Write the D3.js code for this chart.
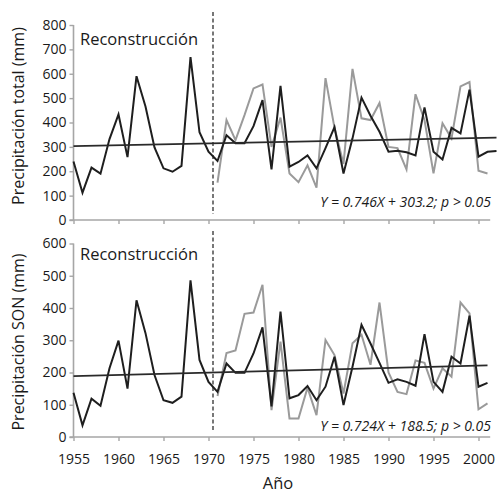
<!DOCTYPE html>
<html>
<head>
<meta charset="utf-8">
<script src="https://cdn.jsdelivr.net/npm/d3@7"></script>
<style>
  body { margin: 0; background: #fff; }
  svg text { font-family: "Open Sans", sans-serif; fill: #1a1a1a; }
</style>
</head>
<body>
<svg id="chart"></svg>
<script>
const firstYear = 1955;
const obsFirstYear = 1971;
const splitYear = 1970.5;

// precipitacion total (mm)
const totalRecon = [240, 112, 215, 190, 332, 433, 258, 590, 466, 298, 212, 198, 222, 668, 360, 280,
  242, 348, 315, 315, 385, 492, 208, 550, 219, 238, 265, 212, 295, 381, 191, 335, 502, 428, 362,
  280, 284, 278, 265, 462, 280, 248, 378, 355, 535, 260, 280, 283];
const totalObs = [153, 410, 328, 430, 540, 556, 300, 420, 191, 155, 224, 133, 582, 378, 230, 620,
  417, 410, 480, 300, 295, 208, 516, 410, 191, 397, 335, 548, 566, 202, 191];

// precipitacion SON (mm)
const sonRecon = [137, 36, 119, 97, 213, 299, 150, 424, 322, 192, 114, 106, 125, 486, 239, 171,
  140, 228, 199, 199, 259, 340, 95, 389, 120, 130, 158, 114, 156, 249, 99, 218, 348, 290, 230,
  168, 179, 171, 159, 319, 171, 140, 249, 228, 376, 156, 168];
const sonObs = [127, 260, 268, 382, 386, 472, 83, 296, 57, 57, 153, 68, 301, 254, 135, 291, 317,
  224, 417, 200, 140, 133, 237, 230, 150, 213, 187, 417, 383, 86, 104];

// regression: Y = a*X + b, X = years since 1955
const totalFit = { a: 0.746, b: 303.2, text: 'Y = 0.746X + 303.2; p > 0.05' };
const sonFit = { a: 0.724, b: 188.5, text: 'Y = 0.724X + 188.5; p > 0.05' };

const xTicks = [1955, 1960, 1965, 1970, 1975, 1980, 1985, 1990, 1995, 2000];
const totalTicks = [0, 100, 200, 300, 400, 500, 600, 700, 800];
const sonTicks = [0, 100, 200, 300, 400, 500, 600];

const width = 497;
const height = 496;

const svg = d3.select('#chart')
  .attr('width', width)
  .attr('height', height);

svg.append('rect').attr('width', width).attr('height', height).attr('fill', '#fff');

const x = d3.scaleLinear().domain([1955, 2000]).range([73.5, 478.5]);
const axisEnd = 2001.3;

const toPoints = (values, start) => values.map((v, i) => ({ year: start + i, value: v }));

function drawPanel(opts) {
  const y = d3.scaleLinear().domain(opts.domain).range(opts.range);
  const g = svg.append('g');

  // axes
  const yAxis = d3.axisLeft(y).tickValues(opts.ticks).tickSize(4).tickSizeOuter(0).tickPadding(3);
  const gy = g.append('g').attr('transform', `translate(${x(1955)},0)`).call(yAxis);
  gy.select('.domain').remove();
  gy.selectAll('.tick line').attr('stroke', '#a6a6a6').attr('stroke-width', 1.4);
  gy.selectAll('.tick text').style('font-size', '14px').attr('fill', '#1a1a1a');

  g.append('line')
    .attr('x1', x(1955)).attr('x2', x(1955))
    .attr('y1', y(opts.domain[1])).attr('y2', y(0))
    .attr('stroke', '#a6a6a6').attr('stroke-width', 1.6);

  const xAxis = d3.axisBottom(x).tickValues(xTicks).tickSize(4).tickSizeOuter(0).tickPadding(13)
    .tickFormat(opts.xLabels ? d3.format('d') : '');
  const gx = g.append('g').attr('transform', `translate(0,${y(0)})`).call(xAxis);
  gx.select('.domain').remove();
  gx.selectAll('.tick line').attr('stroke', '#a6a6a6').attr('stroke-width', 1.4);
  gx.selectAll('.tick text').style('font-size', '14px').attr('fill', '#1a1a1a');

  g.append('line')
    .attr('x1', x(1955) - 4).attr('x2', x(axisEnd))
    .attr('y1', y(0)).attr('y2', y(0))
    .attr('stroke', '#a6a6a6').attr('stroke-width', 1.6);

  // split between reconstruction and observations
  g.append('line')
    .attr('x1', x(splitYear)).attr('x2', x(splitYear))
    .attr('y1', opts.dashTop).attr('y2', y(0) - 6)
    .attr('stroke', '#777').attr('stroke-width', 2)
    .attr('stroke-dasharray', '4,2.5');

  const line = d3.line().x((d) => x(d.year)).y((d) => y(d.value));

  g.append('path')
    .datum(toPoints(opts.obs, obsFirstYear))
    .attr('d', line)
    .attr('fill', 'none')
    .attr('stroke', '#9a9a9a')
    .attr('stroke-width', 2)
    .attr('stroke-linejoin', 'miter');

  g.append('path')
    .datum(toPoints(opts.recon, firstYear))
    .attr('d', line)
    .attr('fill', 'none')
    .attr('stroke', '#1e1e1e')
    .attr('stroke-width', 2)
    .attr('stroke-linejoin', 'miter');

  // trend
  const lastYear = firstYear + opts.recon.length - 1;
  g.append('path')
    .datum([firstYear, lastYear].map((yr) => ({ year: yr, value: opts.fit.a * (yr - firstYear) + opts.fit.b })))
    .attr('d', line)
    .attr('fill', 'none')
    .attr('stroke', '#2a2a2a')
    .attr('stroke-width', 1.7);

  g.append('text')
    .attr('x', 80).attr('y', opts.labelY)
    .style('font-size', '16.5px')
    .text('Reconstrucción');

  g.append('text')
    .attr('x', 491).attr('y', opts.eqY)
    .attr('text-anchor', 'end')
    .style('font-size', '14px')
    .style('font-style', 'italic')
    .text(opts.fit.text);

  g.append('text')
    .attr('transform', `translate(24,${opts.titleY}) rotate(-90)`)
    .attr('text-anchor', 'middle')
    .style('font-size', '16px')
    .text(opts.title);
}

drawPanel({
  recon: totalRecon, obs: totalObs, fit: totalFit,
  domain: [0, 800], range: [220, 25], ticks: totalTicks,
  xLabels: false, dashTop: 12, labelY: 45, eqY: 207,
  title: 'Precipitación total (mm)', titleY: 116
});

drawPanel({
  recon: sonRecon, obs: sonObs, fit: sonFit,
  domain: [0, 600], range: [437, 243.5], ticks: sonTicks,
  xLabels: true, dashTop: 231, labelY: 260, eqY: 431,
  title: 'Precipitación SON (mm)', titleY: 342
});

svg.append('text')
  .attr('x', 278).attr('y', 489)
  .attr('text-anchor', 'middle')
  .style('font-size', '16.5px')
  .text('Año');
</script>
</body>
</html>
